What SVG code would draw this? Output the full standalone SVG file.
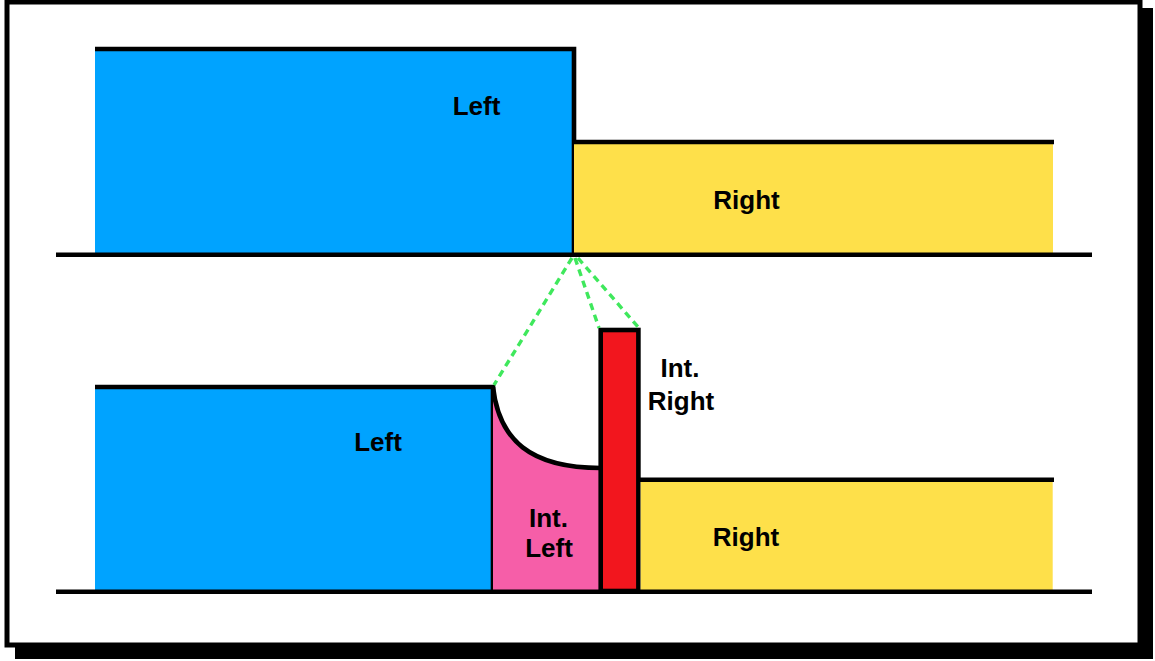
<svg xmlns="http://www.w3.org/2000/svg" width="1155" height="661" viewBox="0 0 1155 661">
  <style>
    .edge { stroke: #000; stroke-width: 4.6; stroke-linecap: butt; fill: none; }
    .lbl { font-family: "Liberation Sans", Arial, sans-serif; font-weight: bold; font-size: 26px; fill: #000; text-anchor: middle; }
    .guide { stroke: #3fe85c; stroke-width: 3.4; stroke-dasharray: 7 5; fill: none; }
    .blue { fill: #00a3ff; }
    .yellow { fill: #fee04a; }
    .pink { fill: #f65ea8; }
    .red { fill: #f2161e; }
  </style>

  <!-- frame with drop shadow -->
  <rect x="15" y="8" width="1138" height="651" fill="#000"/>
  <rect x="7" y="2" width="1133" height="643" fill="#fff" stroke="#000" stroke-width="5"/>

  <!-- upper panel -->
  <g id="top-left">
    <rect class="blue" x="95" y="49" width="479" height="205"/>
    <path class="edge" d="M95,49 H574 V254"/>
    <text class="lbl" x="476.5" y="115">Left</text>
  </g>
  <g id="top-right">
    <rect class="yellow" x="574" y="142" width="479" height="112"/>
    <path class="edge" d="M574,142 H1054"/>
    <text class="lbl" x="746.5" y="209">Right</text>
  </g>
  <g id="top-baseline">
    <path class="edge" d="M56,254.8 H1092"/>
  </g>

  <!-- lower panel -->
  <g id="bottom-left">
    <rect class="blue" x="95" y="387" width="398" height="204"/>
    <path class="edge" d="M95,387 H493 V591"/>
    <text class="lbl" x="378" y="451">Left</text>
  </g>
  <g id="int-left">
    <path class="pink" d="M493,387 C499,440 530,468 601,468 V591 H493 Z"/>
    <path class="edge" d="M493,387 C499,440 530,468 601,468"/>
    <text class="lbl" x="548.5" y="527">Int.</text>
    <text class="lbl" x="549" y="557">Left</text>
  </g>
  <g id="int-right">
    <rect class="red" x="600.7" y="330" width="37.7" height="261" stroke="#000" stroke-width="4.6"/>
    <text class="lbl" x="680" y="377">Int.</text>
    <text class="lbl" x="681" y="410">Right</text>
  </g>
  <g id="bottom-right">
    <rect class="yellow" x="640.7" y="479.7" width="412" height="111"/>
    <path class="edge" d="M638.4,479.7 H1054"/>
    <text class="lbl" x="746" y="546">Right</text>
  </g>
  <g id="bottom-baseline">
    <path class="edge" d="M56,591.8 H1092"/>
  </g>

  <!-- zoom guides from the interface point -->
  <g id="connectors">
    <path class="guide" d="M572,258 L494,385"/>
    <path class="guide" d="M575,258 L599,328"/>
    <path class="guide" d="M578,258 L639,328"/>
  </g>
</svg>
